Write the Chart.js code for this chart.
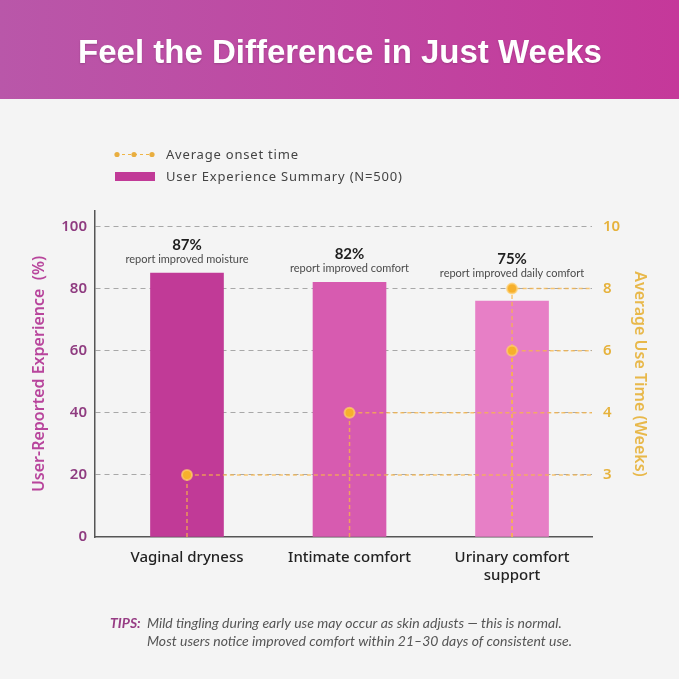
<!DOCTYPE html>
<html>
<head>
<meta charset="utf-8">
<script src="https://cdn.jsdelivr.net/npm/chart.js@4.4.1/dist/chart.umd.min.js"></script>
<style>
  html, body { margin: 0; padding: 0; background: #f4f4f4; }
  canvas { display: block; }
</style>
</head>
<body>
<canvas id="diffChart" width="679" height="679"></canvas>
<script>
// Categories and bar values (bar heights, labels as printed)
const categories = ["Vaginal dryness", "Intimate comfort", ["Urinary comfort", "support"]];
const experience = [85, 82, 76];
const experienceLabels = ["87%", "82%", "75%"];
const experienceNotes = ["report improved moisture", "report improved comfort", "report improved daily comfort"];

// Average onset time in weeks (urinary support has two marks: 6 and 8)
const onsetCategory = [0, 1, 2, 2];
const onsetWeeks = [3, 4, 8, 6];

// Left axis ticks and the week labels printed at the same heights on the right
const leftTicks = [0, 20, 40, 60, 80, 100];
const weekTicks = ["", 3, 4, 6, 8, 10];

const barColors = ["#c13a97", "#d75bb0", "#e77fc6"];
const xMin = -0.566, xMax = 2.492;

// position of a week value on the shared 0-105 scale
function weekPos(w) {
  return leftTicks[weekTicks.indexOf(w)];
}

const onsetPoints = onsetWeeks.map((w, i) => ({ x: onsetCategory[i], y: weekPos(w) }));

// dashed guide from each mark down to the axis and across to the right axis
const guideSets = onsetPoints.map(p => ({
  type: "line",
  data: [{ x: p.x, y: 0 }, { x: p.x, y: p.y }, { x: xMax, y: p.y }],
  yAxisID: "y2",
  borderColor: "rgba(250, 182, 70, 0.75)",
  borderWidth: 1.5,
  borderDash: [4, 3],
  pointRadius: 0,
  fill: false,
  order: 1
}));

const decor = {
  id: "decor",
  beforeDraw(chart) {
    const ctx = chart.ctx;
    ctx.save();
    ctx.fillStyle = "#f4f4f4";
    ctx.fillRect(0, 0, chart.width, chart.height);
    const g = ctx.createLinearGradient(0, 0, chart.width, 0);
    g.addColorStop(0, "#b957a9");
    g.addColorStop(1, "#c5389a");
    ctx.fillStyle = g;
    ctx.fillRect(0, 0, chart.width, 99);
    ctx.fillStyle = "#ffffff";
    ctx.font = "bold 33px 'Liberation Sans', Arial, sans-serif";
    ctx.textAlign = "center";
    ctx.textBaseline = "middle";
    ctx.shadowColor = "rgba(0,0,0,0.18)";
    ctx.shadowBlur = 2;
    ctx.shadowOffsetY = 1;
    ctx.fillText("Feel the Difference in Just Weeks", 340, 54);
    ctx.restore();
  },
  afterDatasetsDraw(chart) {
    const ctx = chart.ctx;
    const bars = chart.getDatasetMeta(chart.data.datasets.length - 1).data;
    const pts = chart.getDatasetMeta(0).data;
    ctx.save();
    ctx.textAlign = "center";
    ctx.textBaseline = "middle";
    bars.forEach((bar, i) => {
      let base = bar.y;
      pts.forEach((p, j) => {
        if (onsetCategory[j] === i && p.y < base) base = p.y - 1;
      });
      ctx.fillStyle = "#1e1e1e";
      ctx.font = "bold 15px Lato, sans-serif";
      ctx.fillText(experienceLabels[i], bar.x, base - 28);
      ctx.fillStyle = "#4a4a4a";
      ctx.font = "11px Lato, sans-serif";
      ctx.fillText(experienceNotes[i], bar.x, base - 14);
    });
    ctx.restore();
  },
  afterDraw(chart) {
    const ctx = chart.ctx;
    ctx.save();
    // legend
    ctx.strokeStyle = "#efb546";
    ctx.lineWidth = 1.2;
    ctx.setLineDash([3, 3]);
    ctx.beginPath();
    ctx.moveTo(116, 154.5);
    ctx.lineTo(153, 154.5);
    ctx.stroke();
    ctx.setLineDash([]);
    ctx.fillStyle = "#e9ae3f";
    [117, 134, 152].forEach(x => {
      ctx.beginPath();
      ctx.arc(x, 154.5, 2.6, 0, Math.PI * 2);
      ctx.fill();
    });
    ctx.fillStyle = barColors[0];
    ctx.fillRect(115, 172, 40, 9);
    ctx.fillStyle = "#444";
    ctx.font = "13px 'Noto Sans', sans-serif";
    ctx.textBaseline = "middle";
    ctx.textAlign = "left";
    ctx.letterSpacing = "0.8px";
    ctx.fillText("Average onset time", 166, 155);
    ctx.fillText("User Experience Summary (N=500)", 166, 177);
    ctx.letterSpacing = "0px";
    // tips
    ctx.fillStyle = "#973c84";
    ctx.font = "italic bold 14px Lato, sans-serif";
    ctx.fillText("TIPS:", 110, 623);
    ctx.fillStyle = "#555";
    ctx.font = "italic 14px Lato, sans-serif";
    ctx.fillText("Mild tingling during early use may occur as skin adjusts \u2014 this is normal.", 147, 623);
    ctx.fillText("Most users notice improved comfort within 21\u201330 days of consistent use.", 147, 641);
    ctx.restore();
  }
};

new Chart(document.getElementById("diffChart"), {
  type: "bar",
  data: {
    datasets: [
      {
        type: "line",
        label: "Average onset time",
        data: onsetPoints,
        yAxisID: "y2",
        showLine: false,
        pointRadius: 5,
        pointBackgroundColor: "#f6b02c",
        pointBorderColor: "rgba(255, 206, 110, 0.7)",
        pointBorderWidth: 2,
        order: 0
      },
      ...guideSets,
      {
        type: "bar",
        label: "User Experience Summary (N=500)",
        data: experience.map((v, i) => ({ x: i, y: v })),
        yAxisID: "y",
        backgroundColor: barColors,
        barThickness: 73,
        order: 2
      }
    ]
  },
  options: {
    responsive: false,
    animation: false,
    layout: { padding: { top: 211, left: 0, right: 0, bottom: 0 } },
    plugins: {
      legend: { display: false },
      tooltip: { enabled: false }
    },
    scales: {
      x: {
        type: "linear",
        min: xMin,
        max: xMax,
        offset: false,
        afterBuildTicks: s => { s.ticks = categories.map((c, i) => ({ value: i })); },
        afterFit: s => { s.height = 142; },
        ticks: {
          autoSkip: false,
          maxRotation: 0,
          padding: 12,
          color: "#222",
          font: { family: "'Noto Sans', sans-serif", size: 15, weight: 500 },
          callback: v => categories[v]
        },
        grid: { display: false, drawTicks: false, offset: false },
        border: { display: true, color: "#555", width: 1.5 }
      },
      y: {
        position: "left",
        min: 0,
        max: 105,
        afterBuildTicks: s => { s.ticks = leftTicks.map(v => ({ value: v })); },
        afterFit: s => { s.width = 95; },
        ticks: {
          padding: 8,
          color: "#8f3c80",
          font: { family: "'Noto Sans', sans-serif", size: 15, weight: 600 }
        },
        grid: {
          drawTicks: false,
          lineWidth: 1,
          color: c => (c.tick && c.tick.value === 0) ? "rgba(0,0,0,0)" : "#a8a8a8"
        },
        border: { display: true, color: "#555", width: 1.5, dash: [5, 4] },
        title: {
          display: true,
          text: "User-Reported Experience  (%)",
          color: "#b8459c",
          font: { family: "'Noto Sans', sans-serif", size: 16, weight: 600 },
          padding: { top: 30, bottom: 0 }
        }
      },
      y2: {
        position: "right",
        min: 0,
        max: 105,
        afterBuildTicks: s => { s.ticks = leftTicks.map(v => ({ value: v })); },
        afterFit: s => { s.width = 87; },
        ticks: {
          padding: 11,
          color: "#e6b23c",
          font: { family: "'Noto Sans', sans-serif", size: 15, weight: 600 },
          callback: v => weekTicks[leftTicks.indexOf(v)]
        },
        grid: { display: false, drawTicks: false },
        border: { display: false },
        title: {
          display: true,
          text: "Average Use Time (Weeks)",
          color: "#e8b84a",
          font: { family: "'Noto Sans', sans-serif", size: 16, weight: 600 },
          padding: { top: 30, bottom: 0 }
        }
      }
    }
  },
  plugins: [decor]
});
</script>
</body>
</html>
